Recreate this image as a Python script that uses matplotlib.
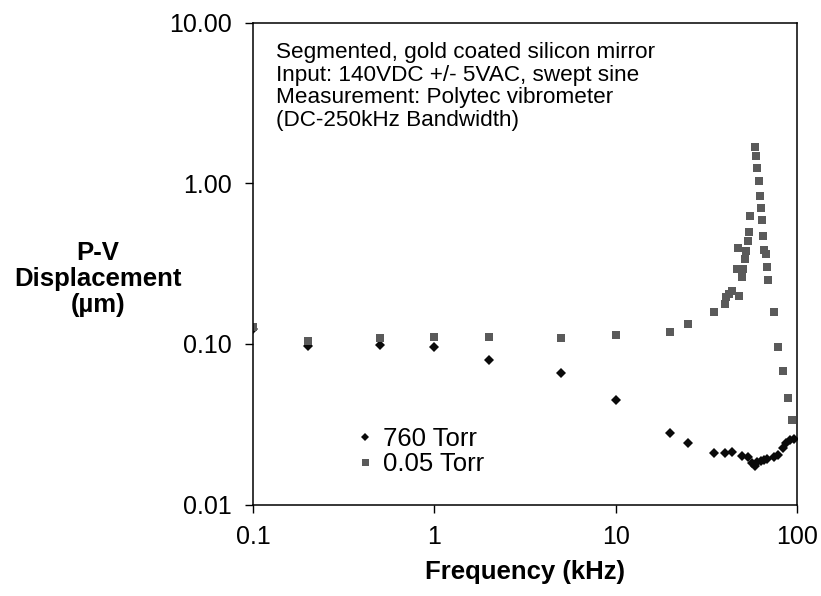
import matplotlib
matplotlib.use("Agg")
import matplotlib.pyplot as plt
from matplotlib.ticker import FixedLocator, FixedFormatter, NullLocator

plt.rcParams['font.family'] = ['Liberation Sans', 'DejaVu Sans']

# 760 Torr series (diamonds)
freq_760 = [0.1, 0.2, 0.5, 1, 2, 5, 10, 20, 25, 35, 40, 44, 49.5, 54, 56.5,
            58.5, 60.5, 63, 65.5, 68, 74.5, 79, 83.5, 87.5, 92, 96]
disp_760 = [0.123, 0.0975, 0.099, 0.095, 0.079, 0.066, 0.0446, 0.028, 0.0241,
            0.0209, 0.0209, 0.0212, 0.0199, 0.0197, 0.0181, 0.0174, 0.0185,
            0.0187, 0.019, 0.0191, 0.0197, 0.0204, 0.0224, 0.0241, 0.0252, 0.0255]

# 0.05 Torr series (squares)
freq_005 = [0.1, 0.2, 0.5, 1, 2, 5, 10, 20, 25, 35, 40, 40.5, 42, 44, 46.5,
            47.5, 48, 49.5, 50.5, 51.5, 52.3, 53.5, 54.3, 55, 58.4, 59.2, 60.1,
            61.5, 62.3, 63.1, 63.9, 64.9, 65.7, 67.2, 68, 68.9, 74.3, 78.8,
            83.7, 88.8, 93.3]
disp_005 = [0.1265, 0.104, 0.109, 0.110, 0.110, 0.109, 0.113, 0.119, 0.1325,
            0.157, 0.178, 0.196, 0.2056, 0.2125, 0.294, 0.397, 0.199, 0.261,
            0.291, 0.337, 0.378, 0.436, 0.496, 0.621, 1.67, 1.47, 1.25, 1.025,
            0.83, 0.697, 0.589, 0.469, 0.382, 0.362, 0.301, 0.251, 0.157,
            0.0955, 0.068, 0.0462, 0.0336]

x_ticks = [0.1, 1, 10, 100]
x_labels = ['0.1', '1', '10', '100']
y_ticks = [0.01, 0.1, 1, 10]
y_labels = ['0.01', '0.10', '1.00', '10.00']

annotation = ("Segmented, gold coated silicon mirror\n"
              "Input: 140VDC +/- 5VAC, swept sine\n"
              "Measurement: Polytec vibrometer\n"
              "(DC-250kHz Bandwidth)")

fig = plt.figure(figsize=(8.21, 5.96), dpi=100)
ax = fig.add_axes([253/821, 1 - 504.5/596, (797-253)/821, (504.5-22.5)/596])

h1, = ax.plot(freq_760, disp_760, linestyle='none', marker='D', ms=5.4,
              color='#0a0a0a', markeredgewidth=0, label='760 Torr')
h2, = ax.plot(freq_005, disp_005, linestyle='none', marker='s', ms=6.3,
              color='#5a5a5a', markeredgewidth=0, label='0.05 Torr')

ax.set_xscale('log')
ax.set_yscale('log')
ax.set_xlim(0.1, 100)
ax.set_ylim(0.01, 10)

ax.xaxis.set_major_locator(FixedLocator(x_ticks))
ax.xaxis.set_major_formatter(FixedFormatter(x_labels))
ax.xaxis.set_minor_locator(NullLocator())
ax.yaxis.set_major_locator(FixedLocator(y_ticks))
ax.yaxis.set_major_formatter(FixedFormatter(y_labels))
ax.yaxis.set_minor_locator(NullLocator())

for s in ax.spines.values():
    s.set_linewidth(1.1)
    s.set_color('black')

ax.tick_params(axis='x', direction='out', length=6, width=1, pad=9,
               labelsize=18)
ax.tick_params(axis='y', direction='out', length=5.5, width=1, pad=10,
               labelsize=18)

ax.set_xlabel('Frequency (kHz)', fontsize=18.5, fontweight='bold', labelpad=8)
fig.text(98/821, 1 - 279/596, 'P-V\nDisplacement\n(µm)', ha='center',
         va='center', fontsize=18.5, fontweight='bold', linespacing=1.08)

ax.text(276/821, 1 - 42/596, annotation, transform=fig.transFigure,
        ha='left', va='top', fontsize=16.2, linespacing=1.1)

leg = ax.legend(handles=[h1, h2], loc='upper left', frameon=False,
                bbox_to_anchor=((357 - 253) / 544, (504.5 - 427) / 482),
                fontsize=18.5, handlelength=0.6, handletextpad=0.4,
                labelspacing=0.05, borderaxespad=0, borderpad=0,
                markerscale=0.8)

fig.savefig('out.png', dpi=100)
